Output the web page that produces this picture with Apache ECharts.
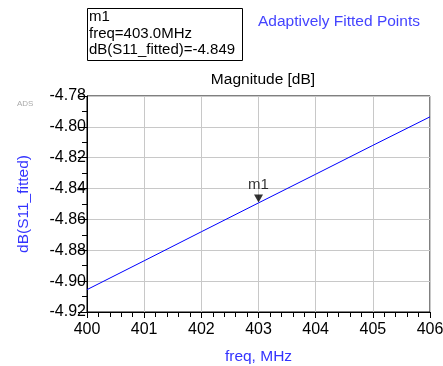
<!DOCTYPE html>
<html><head><meta charset="utf-8">
<script src="https://cdn.jsdelivr.net/npm/echarts@6/dist/echarts.min.js"></script>
<style>html,body{margin:0;padding:0;background:#fff}#c{width:443px;height:366px}</style>
</head><body><div id="c"></div>
<script>
const freq = [400, 401, 402, 403, 404, 405, 406];
const dbS11 = [-4.9055, -4.8868, -4.8680, -4.8493, -4.8307, -4.8120, -4.7935];
const markerFreq = 403.0;
const markerValue = -4.849;
const xTicks = [400, 401, 402, 403, 404, 405, 406];
const yTicks = [-4.92, -4.90, -4.88, -4.86, -4.84, -4.82, -4.80, -4.78];

const F = '"Liberation Sans", Arial, sans-serif';
const chart = echarts.init(document.getElementById('c'));
chart.setOption({
  animation: false,
  backgroundColor: '#fff',
  grid: {left: 87, right: 13, top: 96, bottom: 54, show: true, borderColor: '#000', borderWidth: 1,
    backgroundColor: 'transparent', containLabel: false, outerBoundsMode: 'none'},
  title: {text: 'Magnitude [dB]', left: 258, top: 67, textAlign: 'center',
    textStyle: {fontFamily: F, fontSize: 15.5, fontWeight: 'normal', color: '#000'}},
  xAxis: {type: 'value', min: xTicks[0], max: xTicks[xTicks.length-1], interval: 1,
    name: 'freq, MHz', nameLocation: 'middle', nameGap: 37,
    nameTextStyle: {fontFamily: F, fontSize: 15.5, color: '#3333ff'},
    axisLine: {lineStyle: {color: '#000', width: 1}},
    axisTick: {show: true, length: 6, lineStyle: {color: '#000'}},
    minorTick: {show: true, splitNumber: 5, length: 5, lineStyle: {color: '#000'}},
    splitLine: {show: true, lineStyle: {color: '#c8c8c8', width: 1}},
    axisLabel: {fontFamily: F, fontSize: 16, color: '#000', margin: 10}},
  yAxis: {type: 'value', min: yTicks[0], max: yTicks[yTicks.length-1], interval: 0.02,
    name: 'dB(S11_fitted)', nameLocation: 'middle', nameGap: 55,
    nameTextStyle: {fontFamily: F, fontSize: 15.5, color: '#3333ff'},
    axisLine: {show: true, lineStyle: {color: '#000', width: 1}},
    axisTick: {show: true, length: 9, lineStyle: {color: '#000'}},
    minorTick: {show: true, splitNumber: 2, length: 5, lineStyle: {color: '#000'}},
    splitLine: {show: true, lineStyle: {color: '#c8c8c8', width: 1}},
    axisLabel: {fontFamily: F, fontSize: 16, color: '#000', margin: 1,
      formatter: v => v.toFixed(2)}},
  graphic: [
    {type: 'rect', shape: {x: 87.5, y: 8.5, width: 155, height: 52}, style: {fill: '#fff', stroke: '#000', lineWidth: 1}},
    {type: 'text', x: 89, y: 9, style: {text: 'm1\nfreq=403.0MHz\ndB(S11_fitted)=-4.849', fontFamily: F, fontSize: 15, lineHeight: 16.5, fill: '#000'}},
    {type: 'text', x: 258, y: 14, style: {text: 'Adaptively Fitted Points', fontFamily: F, fontSize: 15.5, fill: '#4444ff'}},
    {type: 'text', x: 17, y: 100, style: {text: 'ADS', fontFamily: F, fontSize: 8, fill: '#aaa'}}
  ],
  series: [
    {type: 'line', data: freq.map((f, i) => [f, dbS11[i]]), showSymbol: false, symbol: 'none',
      lineStyle: {color: '#0000ff', width: 1}},
    {type: 'scatter', data: [[markerFreq, markerValue]], symbol: 'triangle', symbolRotate: 180,
      symbolSize: [9, 8], symbolOffset: [0, -4], itemStyle: {color: '#000'},
      label: {show: true, formatter: 'm1', position: 'top', distance: 2, fontFamily: F, fontSize: 15, color: '#000'}}
  ]
});
</script></body></html>
